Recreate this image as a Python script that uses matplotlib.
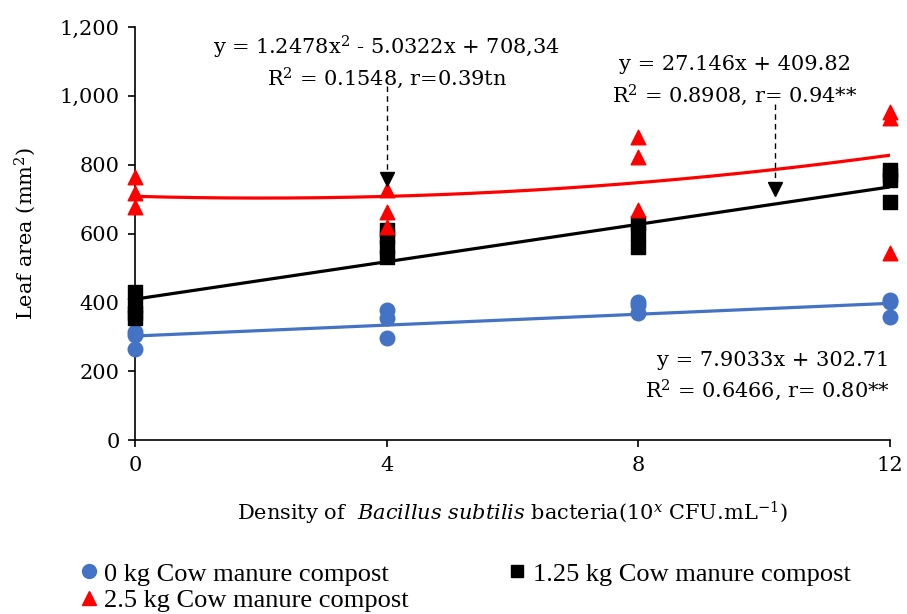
import numpy as np
import matplotlib
matplotlib.use("Agg")
import matplotlib.pyplot as plt
from matplotlib.lines import Line2D

plt.rcParams["font.family"] = ["DejaVu Serif"]
plt.rcParams["mathtext.fontset"] = "custom"
plt.rcParams["mathtext.rm"] = "DejaVu Serif"
plt.rcParams["mathtext.it"] = "DejaVu Serif:italic"

# observed leaf area (mm2) per bacterial density
x_levels = [0, 4, 8, 12]
x_0kg = [0, 0, 0, 4, 4, 4, 8, 8, 8, 12, 12, 12]
y_0kg = [314, 264, 305, 378, 355, 296, 401, 369, 392, 407, 358, 400]
x_125kg = [0, 0, 0, 0, 4, 4, 4, 4, 8, 8, 8, 12, 12, 12, 12]
y_125kg = [430, 392, 369, 355, 610, 590, 561, 532, 631, 601, 561, 785, 770, 756, 692]
x_25kg = [0, 0, 0, 4, 4, 4, 8, 8, 8, 12, 12, 12]
y_25kg = [765, 718, 677, 727, 663, 620, 881, 823, 669, 953, 936, 543]

# fitted trend equations reported in the chart
fit_0kg = [7.9033, 302.71]
fit_125kg = [27.146, 409.82]
fit_25kg = [1.2478, -5.0322, 708.34]

labels = ["0 kg Cow manure compost", "1.25 kg Cow manure compost",
          "2.5 kg Cow manure compost"]
blue, black, red = "#4472C4", "black", "#FF0000"
fs = 15

fig = plt.figure(figsize=(9.07, 6.14), dpi=100)
ax = fig.add_axes([0.149, 0.283, 0.832, 0.673])

xs = np.linspace(0, 12, 200)
ax.plot(xs, np.polyval(fit_0kg, xs), color=blue, lw=2.3, zorder=2)
ax.plot(xs, np.polyval(fit_125kg, xs), color=black, lw=2.3, zorder=2)
ax.plot(xs, np.polyval(fit_25kg, xs), color=red, lw=2.3, zorder=2)

ax.scatter(x_0kg, y_0kg, marker="o", s=110, color=blue, zorder=3, clip_on=False)
ax.scatter(x_125kg, y_125kg, marker="s", s=100, color=black, zorder=3, clip_on=False)
ax.scatter(x_25kg, y_25kg, marker="^", s=110, color=red, zorder=4, clip_on=False)

ax.set_xlim(0, 12)
ax.set_ylim(0, 1200)
ax.set_xticks(x_levels)
ax.set_yticks(range(0, 1201, 200))
ax.yaxis.set_major_formatter(matplotlib.ticker.FuncFormatter(lambda v, p: f"{int(v):,}"))
ax.tick_params(labelsize=fs, length=5, width=1.2, direction="out", pad=6)
for s in ["top", "right"]:
    ax.spines[s].set_visible(False)
for s in ["left", "bottom"]:
    ax.spines[s].set_linewidth(1.2)

ax.set_ylabel("Leaf area (mm$^2$)", fontsize=fs, labelpad=16)
ax.set_xlabel("Density of  $\\it{Bacillus\\ subtilis}$ bacteria(10$^x$ CFU.mL$^{-1}$)",
              fontsize=fs, labelpad=18)

# equations and dashed arrows
ax.text(4, 1142, "y = 1.2478x$^2$ - 5.0322x + 708,34", ha="center", va="center", fontsize=fs)
ax.text(4, 1052, "R$^2$ = 0.1548, r=0.39tn", ha="center", va="center", fontsize=fs)
ax.text(9.54, 1090, "y = 27.146x + 409.82", ha="center", va="center", fontsize=fs)
ax.text(9.54, 1003, "R$^2$ = 0.8908, r= 0.94**", ha="center", va="center", fontsize=fs)
ax.text(12, 232, "y = 7.9033x + 302.71", ha="right", va="center", fontsize=fs)
ax.text(12, 145, "R$^2$ = 0.6466, r= 0.80**", ha="right", va="center", fontsize=fs)

for ax_x, y0, y1 in [(4, 1030, 760), (10.17, 975, 730)]:
    ax.plot([ax_x, ax_x], [y0, y1], color="black", lw=1, ls=(0, (4, 3)), zorder=5)
    ax.plot([ax_x], [y1], marker="v", color="black", ms=10, zorder=5)

handles = [
    Line2D([], [], marker="o", color=blue, ls="", ms=10),
    Line2D([], [], marker="^", color=red, ls="", ms=10),
    Line2D([], [], marker="s", color=black, ls="", ms=9),
]
order_labels = [labels[0], labels[2], labels[1]]
fig.legend(handles, order_labels, loc="lower left", bbox_to_anchor=(0.057, -0.035), ncol=2,
           frameon=False, handletextpad=0.1, columnspacing=3.6,
           handlelength=1.0, labelspacing=0.1,
           prop={"family": "Liberation Serif", "size": 19})

fig.savefig("out.png", dpi=100)
